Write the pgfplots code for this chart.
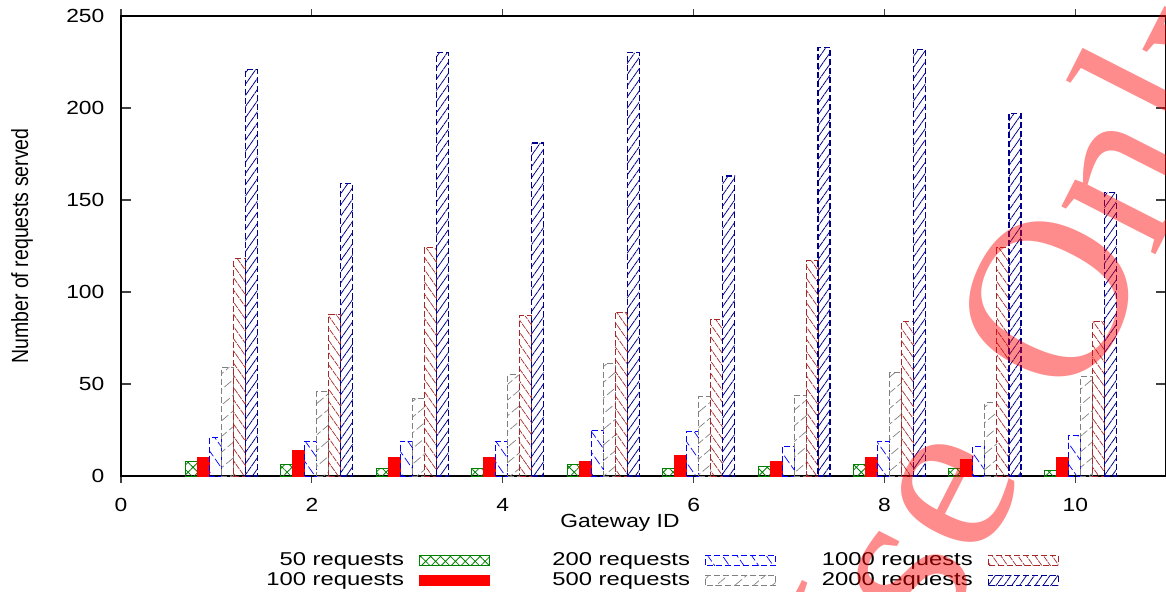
\documentclass[border=0pt]{standalone}
\usepackage{fontspec}
\setmainfont{Liberation Sans}[FakeStretch=1.2]
\newfontfamily\plainsans{Liberation Sans}
\newfontfamily\legfont{Liberation Sans}[FakeStretch=1.28]
\newfontfamily\wmfont{Liberation Serif}
\usepackage{graphicx}
\usepackage{pgfplots}
\pgfplotsset{compat=1.18}
\usepackage{pgfplotstable}
\usetikzlibrary{patterns.meta}

\definecolor{cgreen}{rgb}{0,0.5,0}
\definecolor{cbrown}{rgb}{0.65,0.16,0.16}
\definecolor{cnavy}{rgb}{0,0,0.55}
\definecolor{cgray}{rgb}{0.5,0.5,0.5}

\tikzset{
  s50/.style={draw=cgreen, line width=0.5pt, pattern={Hatch[angle=45,distance=3.5pt,line width=0.4pt]}, pattern color=cgreen},
  s100/.style={draw=red, fill=red, line width=0.5pt},
  s200/.style={draw=blue, line width=0.5pt, dash pattern=on 3pt off 1.5pt, pattern={Lines[angle=-55,distance=6pt,line width=0.35pt]}, pattern color=blue},
  s500/.style={draw=cgray, line width=0.5pt, dash pattern=on 3pt off 1.5pt, pattern={Lines[angle=40,distance=6pt,line width=0.35pt]}, pattern color=cgray},
  s1000/.style={draw=cbrown, line width=0.5pt, dash pattern=on 3pt off 1.5pt, pattern={Lines[angle=-55,distance=3.5pt,line width=0.35pt]}, pattern color=cbrown},
  s2000/.style={draw=cnavy, line width=0.6pt, dash pattern=on 3pt off 1.5pt, pattern={Lines[angle=55,distance=3.2pt,line width=0.4pt]}, pattern color=cnavy},
  wm/.style={overlay, rotate=63, text=red, text opacity=0.45, inner sep=0pt,
      font=\wmfont\fontsize{115}{115}\selectfont},
}

\pgfplotstableread{
gw  a   b   c   d   e    f
1   8   10  21  59  118  221
2   6   14  19  46  88   159
3   4   10  19  42  124  230
4   4   10  19  55  87   181
5   6   8   25  61  89   230
6   4   11  24  43  85   163
7   5   8   16  44  117  233
8   6   10  19  56  84   232
9   4   9   16  40  124  197
10  3   10  22  54  84   154
}\datatable

\pgfplotsset{
  legaxis/.style={
    scale only axis, width=522.5pt, height=230pt, hide axis,
    xmin=0, xmax=1, ymin=0, ymax=1,
    legend style={anchor=north east, draw=none, fill=none, inner sep=0pt, outer sep=0pt,
      column sep=7pt, row sep=0pt, font=\legfont\fontsize{9.3}{10}\selectfont,
      nodes={inner sep=0.5pt, text height=7pt, text depth=2pt}},
    legend plot pos=right, legend cell align=right,
    legend image code/.code={\draw[##1] (0pt,-2.3pt) rectangle (35pt,2.7pt);},
  }
}

\begin{document}
\begin{tikzpicture}
\begin{axis}[
  scale only axis, width=522.5pt, height=230pt,
  xmin=0, xmax=10.95, ymin=0, ymax=250,
  xtick={0,2,4,6,8,10}, ytick={0,50,100,150,200,250},
  tick align=inside,
  axis line style={line width=0.8pt},
  xtick style={/pgfplots/major tick length=3.5pt, line width=0.6pt, black!75},
  ytick style={/pgfplots/major tick length=5pt, line width=0.6pt, black!75},
  ticklabel style={font=\fontsize{9.5}{11}\selectfont},
  /pgf/number format/assume math mode=true,
  xticklabel style={yshift=-3.3pt},
  yticklabel style={xshift=-4.8pt},
  xlabel={Gateway ID},
  xlabel style={at={(axis description cs:0.4775,-0.102)}, anchor=center, font=\fontsize{9.5}{11}\selectfont},
  ylabel={\scalebox{1}[1.2]{\plainsans\fontsize{9.75}{11}\selectfont Number of requests served}},
  ylabel style={at={(axis description cs:-0.0947,0.5)}, anchor=center},
  ybar, bar width=6pt,
]
\addplot[s50,   bar shift=-12.5pt] table[x=gw,y=a]{\datatable};
\addplot[s100,  bar shift=-6.5pt]  table[x=gw,y=b]{\datatable};
\addplot[s200,  bar shift=-0.5pt]  table[x=gw,y=c]{\datatable};
\addplot[s500,  bar shift=5.5pt]   table[x=gw,y=d]{\datatable};
\addplot[s1000, bar shift=11.5pt]  table[x=gw,y=e]{\datatable};
\addplot[s2000, bar shift=17.5pt]  table[x=gw,y=f]{\datatable};
\end{axis}

\begin{axis}[legaxis, legend style={at={(0.3531,-0.1624)}}]
\addlegendimage{s50}\addlegendentry{50 requests}
\addlegendimage{s100}\addlegendentry{100 requests}
\end{axis}
\begin{axis}[legaxis, legend style={at={(0.6268,-0.1624)}}]
\addlegendimage{s200}\addlegendentry{200 requests}
\addlegendimage{s500}\addlegendentry{500 requests}
\end{axis}
\begin{axis}[legaxis, legend style={at={(0.8976,-0.1624)}}]
\addlegendimage{s1000}\addlegendentry{1000 requests}
\addlegendimage{s2000}\addlegendentry{2000 requests}
\end{axis}

\node[wm] at (379pt,-61.5pt) {Use};
\node[wm] at (506.5pt,149pt) {Only};

\pgfresetboundingbox
\path (-60.5pt,-57.5pt) rectangle (522.5pt,238pt);
\end{tikzpicture}
\end{document}
